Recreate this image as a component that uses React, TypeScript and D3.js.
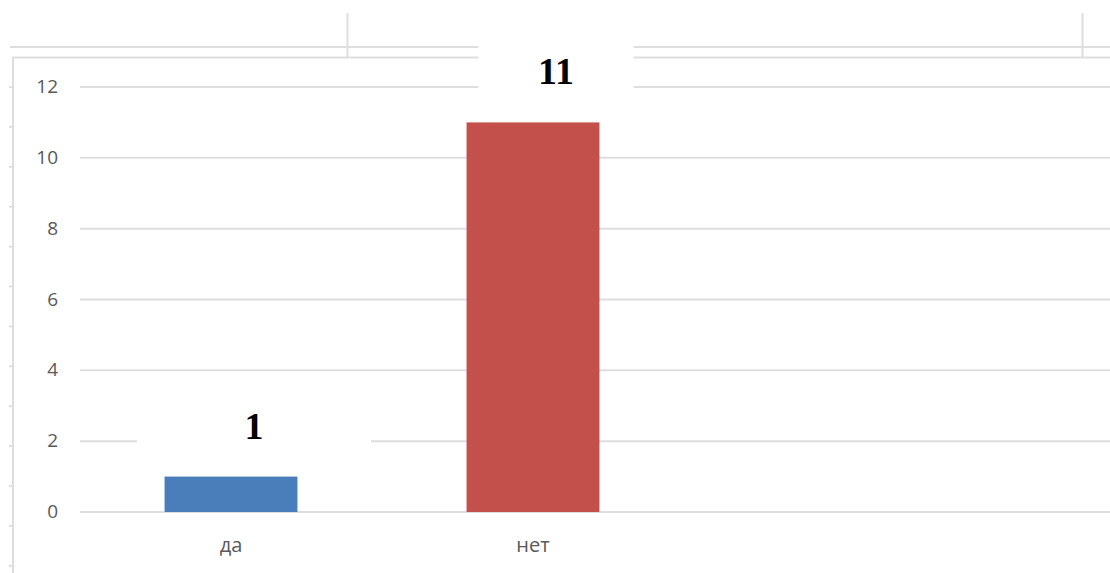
import React from "react";
import * as d3 from "d3";

const categories = ["да", "нет"];
const values = [1, 11];
const barColors = ["#4A7EBB", "#C4504B"];
const yTicks = [0, 2, 4, 6, 8, 10, 12];
const labelBoxWidths = [234, 155];
const labelBoxTops = [396, 28];
const labelBoxHeights = [68, 82];

const W = 1110;
const H = 573;

export default function App() {
  const y = d3.scaleLinear().domain([0, 12]).range([512, 87]);
  const x = d3
    .scaleBand<string>()
    .domain(categories)
    .range([80, 80 + 302 * 2])
    .paddingInner(0.56)
    .paddingOuter(0.28);

  const grid = "#DEDEDE";
  const rowMarks = d3.range(87, 573, 39.9);
  const labelFont = "'Open Sans', 'Liberation Sans', Arial, sans-serif";

  return (
    <div style={{ position: "absolute", left: 0, top: 0 }}>
      <svg width={W} height={H} style={{ display: "block", background: "#fff" }}>
        {/* spreadsheet grid behind chart */}
        <line x1={10} x2={W} y1={47} y2={47} stroke={grid} strokeWidth={2} />
        <line x1={347.5} x2={347.5} y1={13} y2={57} stroke={grid} strokeWidth={2} />
        <line x1={1082.5} x2={1082.5} y1={13} y2={57} stroke={grid} strokeWidth={2} />
        {/* chart border */}
        <line x1={12} x2={W} y1={57.5} y2={57.5} stroke={grid} strokeWidth={2} />
        <line x1={13} x2={13} y1={57} y2={H} stroke={grid} strokeWidth={2} />
        {rowMarks.map((m, i) => (
          <line key={"rm" + i} x1={9} x2={12} y1={m} y2={m} stroke="#D6D6D6" strokeWidth={1.5} />
        ))}
        {/* gridlines */}
        {yTicks.map((t) => (
          <line key={"g" + t} x1={80} x2={W} y1={y(t)} y2={y(t)} stroke={grid} strokeWidth={2} />
        ))}
        {/* y tick labels */}
        {yTicks.map((t) => (
          <text
            key={"yl" + t}
            x={58}
            y={y(t) - 1}
            textAnchor="end"
            dominantBaseline="central"
            fontFamily={labelFont}
            fontSize={19}
            fill="#595959"
          >
            {t}
          </text>
        ))}
        {/* bars */}
        {categories.map((c, i) => (
          <rect
            key={"b" + c}
            x={x(c)!}
            y={y(values[i])}
            width={x.bandwidth()}
            height={y(0) - y(values[i])}
            fill={barColors[i]}
          />
        ))}
        {/* category labels */}
        {categories.map((c) => (
          <text
            key={"xl" + c}
            x={x(c)! + x.bandwidth() / 2}
            y={552}
            textAnchor="middle"
            fontFamily={labelFont}
            fontSize={20}
            fill="#595959"
          >
            {c}
          </text>
        ))}
        {/* data labels with white boxes */}
        {categories.map((c, i) => {
          const cx = x(c)! + x.bandwidth() / 2 + 23;
          return (
            <g key={"dl" + c}>
              <rect
                x={cx - labelBoxWidths[i] / 2}
                y={labelBoxTops[i]}
                width={labelBoxWidths[i]}
                height={labelBoxHeights[i]}
                fill="#fff"
              />
              <text
                x={cx}
                y={y(values[i]) - 38}
                textAnchor="middle"
                fontFamily="'Liberation Serif', 'Times New Roman', serif"
                fontWeight="bold"
                fontSize={38}
                fill="#000"
              >
                {values[i]}
              </text>
            </g>
          );
        })}
      </svg>
    </div>
  );
}
